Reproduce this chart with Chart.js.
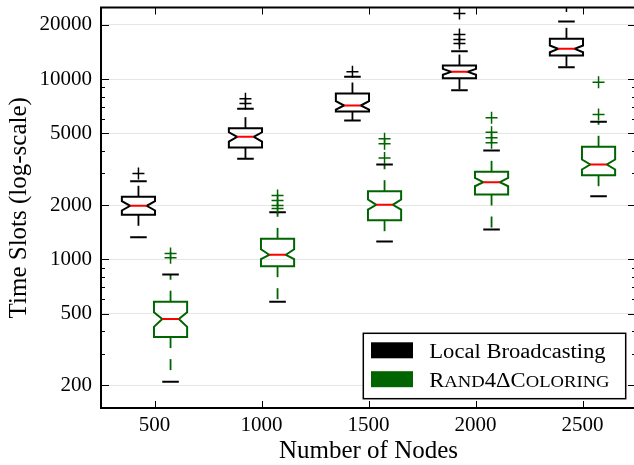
<!DOCTYPE html>
<html><head><meta charset="utf-8">
<script src="https://cdn.jsdelivr.net/npm/chart.js@4.4.0/dist/chart.umd.min.js"></script>
<style>html,body{margin:0;padding:0;background:#fff;overflow:hidden;width:634px;height:465px}canvas{display:block}</style>
</head><body><canvas id="c" width="634" height="465"></canvas>
<script>
// ---- data ----
const xLabels = ['500', '1000', '1500', '2000', '2500'];
const seriesNames = ['Local Broadcasting', 'Rand4ΔColoring'];
const yMajorTicks = [200, 500, 1000, 2000, 5000, 10000, 20000];
const yMinorTicks = [300, 400, 600, 700, 800, 900, 3000, 4000, 6000, 7000, 8000, 9000];

// Local Broadcasting (black)
const lbLowCap  = [1330, 3620, 5900, 8690, 11660];
const lbQ1      = [1770, 4180, 6620, 10130, 13530];
const lbNotchLo = [1870, 4510, 6790, 10580, 14110];
const lbMedian  = [1985, 4790, 7150, 10990, 14740];
const lbNotchHi = [2105, 5080, 7550, 11420, 15380];
const lbQ3      = [2228, 5350, 8330, 11910, 16750];
const lbHighCap = [2718, 6850, 10310, 14300, 20890];
const lbFliers  = [[3000], [7330, 7785], [11000], [15780, 16600, 17700, 23140], [25500]];

// Rand4ΔColoring (green)
const rcLowCap  = [210, 583, 1258, 1467, 2244];
const rcQ1      = [371, 918, 1652, 2293, 2935];
const rcNotchLo = [423, 1004, 1893, 2549, 3156];
const rcMedian  = [467, 1062, 2011, 2684, 3364];
const rcNotchHi = [510, 1140, 2152, 2838, 3586];
const rcQ3      = [583, 1302, 2392, 3064, 4220];
const rcHighCap = [825, 1829, 3364, 4020, 5800];
const rcFliers  = [[1022, 1080], [1918, 1993, 2124, 2265], [3660, 4380, 4670], [4440, 4730, 5080, 6110], [6370, 9625]];

// ---- styling ----
const FONT = "'Liberation Serif', 'Times New Roman', serif";
const BOX_W = 0.31;
const PLOT_RIGHT = 636; // right spine sits just past the visible page edge
const series = [
  {name: seriesNames[0], color: '#000000', offset: -0.15, smallCaps: false,
   lowCap: lbLowCap, q1: lbQ1, notchLo: lbNotchLo, med: lbMedian, notchHi: lbNotchHi, q3: lbQ3, highCap: lbHighCap, fliers: lbFliers},
  {name: seriesNames[1], color: '#006400', offset: 0.15, smallCaps: true,
   lowCap: rcLowCap, q1: rcQ1, notchLo: rcNotchLo, med: rcMedian, notchHi: rcNotchHi, q3: rcQ3, highCap: rcHighCap, fliers: rcFliers}
];

const datasets = series.map(s => ({
  label: s.name,
  data: s.fliers.flatMap((arr, i) => arr.map(v => ({x: i + 1 + s.offset, y: v}))),
  pointStyle: 'cross', pointRadius: 6, pointHoverRadius: 6,
  borderWidth: 1.5, borderColor: s.color, backgroundColor: s.color, showLine: false
}));

function drawLabel(ctx, text, x, baseline, smallCaps) {
  ctx.save();
  ctx.translate(x, baseline);
  ctx.scale(1.13, 1);
  ctx.fillStyle = '#000';
  ctx.textBaseline = 'alphabetic';
  ctx.textAlign = 'left';
  let cx = 0;
  for (const ch of text) {
    const lower = smallCaps && ch !== ch.toUpperCase();
    ctx.font = (lower ? '16.5px ' : '20px ') + FONT;
    const c = lower ? ch.toUpperCase() : ch;
    ctx.fillText(c, cx, 0);
    cx += ctx.measureText(c).width;
  }
  ctx.restore();
}

const boxPlugin = {
  id: 'boxes',
  afterLayout(chart) {
    const a = chart.chartArea;
    a.right = PLOT_RIGHT; a.width = a.right - a.left;
    const x = chart.scales.x;
    x.right = PLOT_RIGHT; x.width = PLOT_RIGHT - x.left;
    x.configure();
    x._labelItems = null;
  },
  beforeDatasetsDraw(chart) {
    const {ctx, chartArea: a, scales: {x, y}} = chart;
    const Y = v => y.getPixelForValue(v);
    ctx.save();
    ctx.beginPath(); ctx.rect(a.left, a.top, a.right - a.left, a.bottom - a.top); ctx.clip();
    series.forEach(s => {
      for (let i = 0; i < xLabels.length; i++) {
        const p = i + 1 + s.offset;
        const xc = x.getPixelForValue(p);
        const L = x.getPixelForValue(p - BOX_W / 2), R = x.getPixelForValue(p + BOX_W / 2);
        const iL = (xc + L) / 2, iR = (xc + R) / 2;
        // whiskers (dashed)
        ctx.strokeStyle = s.color; ctx.lineWidth = 1.8; ctx.setLineDash([11, 11]); ctx.lineCap = 'butt';
        ctx.beginPath(); ctx.moveTo(xc, Y(s.q1[i])); ctx.lineTo(xc, Y(s.lowCap[i])); ctx.stroke();
        ctx.beginPath(); ctx.moveTo(xc, Y(s.q3[i])); ctx.lineTo(xc, Y(s.highCap[i])); ctx.stroke();
        ctx.setLineDash([]);
        // caps
        ctx.strokeStyle = '#000'; ctx.lineWidth = 2;
        ctx.beginPath();
        ctx.moveTo(iL, Y(s.lowCap[i])); ctx.lineTo(iR, Y(s.lowCap[i]));
        ctx.moveTo(iL, Y(s.highCap[i])); ctx.lineTo(iR, Y(s.highCap[i]));
        ctx.stroke();
        // notched box
        ctx.strokeStyle = s.color; ctx.lineWidth = 2; ctx.lineJoin = 'miter';
        ctx.beginPath();
        ctx.moveTo(L, Y(s.q1[i])); ctx.lineTo(R, Y(s.q1[i]));
        ctx.lineTo(R, Y(s.notchLo[i])); ctx.lineTo(iR, Y(s.med[i])); ctx.lineTo(R, Y(s.notchHi[i]));
        ctx.lineTo(R, Y(s.q3[i])); ctx.lineTo(L, Y(s.q3[i]));
        ctx.lineTo(L, Y(s.notchHi[i])); ctx.lineTo(iL, Y(s.med[i])); ctx.lineTo(L, Y(s.notchLo[i]));
        ctx.closePath(); ctx.stroke();
        // median
        ctx.strokeStyle = '#ff0000'; ctx.lineWidth = 2;
        ctx.beginPath(); ctx.moveTo(iL, Y(s.med[i])); ctx.lineTo(iR, Y(s.med[i])); ctx.stroke();
      }
    });
    ctx.restore();
  },
  afterDraw(chart) {
    const {ctx, chartArea: a, scales: {x, y}} = chart;
    ctx.save();
    // tick marks (inward, both sides)
    ctx.strokeStyle = '#000'; ctx.lineWidth = 1;
    ctx.beginPath();
    y.ticks.forEach(t => {
      const py = Math.round(y.getPixelForValue(t.value)) + 0.5;
      const len = yMajorTicks.includes(t.value) ? 8 : 4;
      ctx.moveTo(a.left, py); ctx.lineTo(a.left + len, py);
      ctx.moveTo(a.right, py); ctx.lineTo(a.right - len, py);
    });
    x.ticks.forEach(t => {
      const px = Math.round(x.getPixelForValue(t.value)) + 0.5;
      ctx.moveTo(px, a.bottom); ctx.lineTo(px, a.bottom - 7);
      ctx.moveTo(px, a.top); ctx.lineTo(px, a.top + 7);
    });
    ctx.stroke();
    // spines
    ctx.lineWidth = 2;
    ctx.strokeRect(a.left, a.top, a.right - a.left, a.bottom - a.top);
    // legend
    const lw = 262.4, lh = 65.4;
    const lx = a.right - 10.3 - lw, ly = a.bottom - 9.3 - lh;
    ctx.fillStyle = '#fff'; ctx.fillRect(lx, ly, lw, lh);
    ctx.lineWidth = 1.5; ctx.strokeStyle = '#000'; ctx.strokeRect(lx, ly, lw, lh);
    const rows = [17, 45.9];
    series.forEach((s, k) => {
      const cy = ly + rows[k];
      ctx.fillStyle = s.color;
      ctx.fillRect(lx + 7.7, cy - 8, 42, 16);
      drawLabel(ctx, s.name, lx + 66, cy + 8, s.smallCaps);
    });
    ctx.restore();
  }
};

Chart.defaults.color = '#000';
Chart.defaults.font.family = FONT;

new Chart(document.getElementById('c'), {
  type: 'scatter',
  data: {datasets},
  plugins: [boxPlugin],
  options: {
    responsive: false, animation: false, devicePixelRatio: 1,
    layout: {padding: {top: 7, right: 0, left: 0, bottom: 0}},
    plugins: {legend: {display: false}, tooltip: {enabled: false}},
    scales: {
      x: {
        type: 'linear', min: 0.5, max: 5.5,
        afterBuildTicks: sc => { sc.ticks = xLabels.map((l, i) => ({value: i + 1})); },
        afterFit: sc => { sc.height = 57; sc.paddingLeft = 0; sc.paddingRight = 0; sc.paddingTop = 0; sc.paddingBottom = 0; },
        ticks: {callback: v => xLabels[v - 1] ?? '', font: {size: 21}, padding: 5, maxRotation: 0, autoSkip: false},
        grid: {display: false, drawTicks: false},
        border: {display: false},
        title: {display: true, text: 'Number of Nodes', font: {size: 25, lineHeight: 1}, padding: {top: 0, bottom: 1.5}}
      },
      y: {
        type: 'logarithmic', min: 150, max: 25000,
        afterBuildTicks: sc => {
          sc.ticks = [...yMajorTicks, ...yMinorTicks].sort((p, q) => p - q).map(v => ({value: v}));
        },
        afterFit: sc => { sc.width = 101; sc.paddingLeft = 0; sc.paddingRight = 0; sc.paddingTop = 0; sc.paddingBottom = 0; },
        ticks: {callback: v => yMajorTicks.includes(v) ? String(v) : '', font: {size: 21}, padding: 9, autoSkip: false},
        grid: {
          drawTicks: false, lineWidth: 1,
          color: c => (c.tick && yMajorTicks.includes(c.tick.value)) ? '#e6e6e6' : 'rgba(0,0,0,0)'
        },
        border: {display: false},
        title: {display: true, text: 'Time Slots (log-scale)', font: {size: 25, lineHeight: 1}, padding: {top: 7, bottom: 0}}
      }
    }
  }
});
</script>
</body></html>
